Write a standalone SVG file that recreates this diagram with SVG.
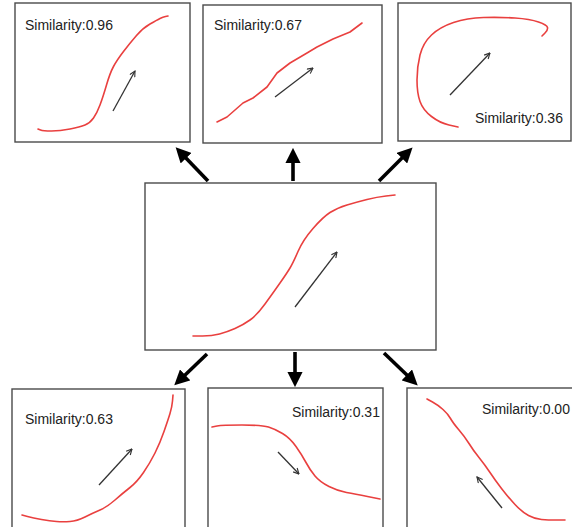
<svg xmlns="http://www.w3.org/2000/svg" width="572" height="527" viewBox="0 0 572 527">
<style>
.box{fill:#fff;stroke:#4a4a4a;stroke-width:1.4}
.curve{fill:none;stroke:#e9403f;stroke-width:1.6;stroke-linejoin:round;stroke-linecap:round}
.thin{fill:none;stroke:#333;stroke-width:1.3;marker-end:url(#vh)}
.thick{fill:none;stroke:#000;stroke-width:3.6;marker-end:url(#th)}
.lbl{font-family:"Liberation Sans",Arial,sans-serif;font-size:14px;fill:#222}
</style>
<defs>
<marker id="vh" viewBox="0 0 10 10" refX="9" refY="5" markerWidth="7" markerHeight="7" markerUnits="userSpaceOnUse" orient="auto">
<path d="M1,1 L9,5 L1,9" fill="none" stroke="#333" stroke-width="1.6"/>
</marker>
<marker id="th" viewBox="0 0 10 10" refX="2" refY="5" markerWidth="4.2" markerHeight="4.2" orient="auto">
<path d="M0,0 L10,5 L0,10 Z" fill="#000"/>
</marker>
</defs>
<rect width="572" height="527" fill="#fff"/>
<g id="connectors">
<line class="thick" x1="208" y1="181" x2="184" y2="156"/>
<line class="thick" x1="293" y1="181" x2="293" y2="160"/>
<line class="thick" x1="379" y1="181" x2="404" y2="156"/>
<line class="thick" x1="207" y1="354" x2="183" y2="377"/>
<line class="thick" x1="295" y1="352" x2="295" y2="375"/>
<line class="thick" x1="384" y1="353" x2="409" y2="377"/>
</g>
<g id="center">
<rect class="box" x="145" y="183" width="291" height="167"/>
<path class="curve" d="M193,336 L202.5,336 Q212,336 219.5,334 Q227,332 235,328.5 Q243,325 250,320 Q257,315 265,304 Q273,293 280,283 Q287,273 290,268 Q293,263 298,251.5 Q303,240 313,228.5 Q323,217 330,212.5 Q337,208 347,205 Q357,202 367,199.5 Q377,197 386,196 L395,195"/>
<line class="thin" x1="295" y1="307" x2="337" y2="252"/>
</g>
<g id="n096">
<rect class="box" x="15" y="3" width="175" height="139"/>
<text class="lbl" x="25" y="30">Similarity:0.96</text>
<path class="curve" d="M38,129 L40.5,130 Q43,131 51.5,131 Q60,131 70,129 Q80,127 85,125 Q90,123 93.5,118 Q97,113 100,105 Q103,97 106.5,85 Q110,73 113.5,66.5 Q117,60 123.5,51.5 Q130,43 136.5,35.5 Q143,28 150,24 Q157,20 160,18.5 Q163,17 165.5,16.5 L168,16"/>
<line class="thin" x1="113" y1="111" x2="135" y2="71"/>
</g>
<g id="n067">
<rect class="box" x="203" y="5" width="179" height="138"/>
<text class="lbl" x="214" y="30">Similarity:0.67</text>
<path class="curve" d="M217,122 L227,117 L243,103 L253,98 L267,87 L277,73 L290,63 L307,53 L317,47 L333,39 L350,32 L362,23"/>
<line class="thin" x1="275" y1="97" x2="313" y2="68"/>
</g>
<g id="n036">
<rect class="box" x="398" y="3" width="173" height="138"/>
<text class="lbl" x="475" y="123">Similarity:0.36</text>
<path class="curve" d="M458,127 L449,125 Q440,123 431.5,116.5 Q423,110 420,101.5 Q417,93 417,80 Q417,67 420,55 Q423,43 431.5,35 Q440,27 453.5,22.5 Q467,18 483.5,17.5 Q500,17 515,18 Q530,19 538.5,22 Q547,25 547.5,27.5 Q548,30 545,33 L542,36"/>
<line class="thin" x1="450" y1="95" x2="490" y2="53"/>
</g>
<g id="n063">
<rect class="box" x="12" y="389" width="173" height="145"/>
<text class="lbl" x="25" y="424">Similarity:0.63</text>
<path class="curve" d="M22,515 L27.5,516.5 Q33,518 41.5,519.5 Q50,521 56.5,521.5 Q63,522 70,521.5 Q77,521 85,517 Q93,513 100,510 Q107,507 115,500 Q123,493 130,487.5 Q137,482 143.5,472.5 Q150,463 155,453 Q160,443 164,431.5 Q168,420 170,413.5 Q172,407 172.5,401 L173,395"/>
<line class="thin" x1="99" y1="485" x2="132" y2="449"/>
</g>
<g id="n031">
<rect class="box" x="208" y="388" width="175" height="146"/>
<text class="lbl" x="292" y="417">Similarity:0.31</text>
<path class="curve" d="M212,427 L217,426 Q222,425 242,425 Q262,425 268.5,427 Q275,429 282.5,433.5 Q290,438 296,446.5 Q302,455 306,462.5 Q310,470 315,476 Q320,482 329,486.5 Q338,491 346.5,492.5 Q355,494 367.5,496.5 L380,499"/>
<line class="thin" x1="278" y1="452" x2="299" y2="474"/>
</g>
<g id="n000">
<rect class="box" x="407" y="388" width="170" height="146"/>
<text class="lbl" x="482" y="414">Similarity:0.00</text>
<path class="curve" d="M427,399 L432.5,402 Q438,405 443,409.5 Q448,414 450.5,418.5 Q453,423 459,430 Q465,437 469,443.5 Q473,450 479,457.5 Q485,465 490,472.5 Q495,480 501.5,488.5 Q508,497 515,504.5 Q522,512 528.5,515.5 Q535,519 541.5,519.5 Q548,520 556.5,520 L565,520"/>
<line class="thin" x1="502" y1="508" x2="477" y2="477"/>
</g>
</svg>
